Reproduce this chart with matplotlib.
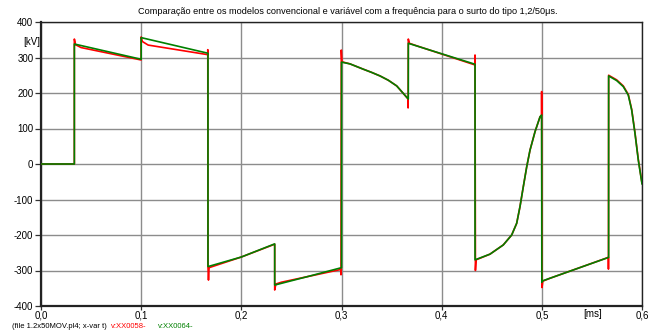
import matplotlib
matplotlib.use('Agg')
import matplotlib.pyplot as plt
from matplotlib.ticker import FuncFormatter

plt.rcParams['font.family'] = ['Liberation Sans', 'DejaVu Sans']
plt.rcParams['axes.unicode_minus'] = False

# v:XX0064- (green, variable-frequency model)
t_green = [0.0, 0.0333, 0.0333, 0.1, 0.1, 0.1667, 0.1667, 0.2, 0.2333, 0.2333,
           0.265, 0.3, 0.3, 0.3085, 0.3218, 0.3301, 0.3385, 0.3467, 0.3551, 0.3601,
           0.3667, 0.3667, 0.4333, 0.4333, 0.4482, 0.4615, 0.4699, 0.4749, 0.4782,
           0.4815, 0.4849, 0.4882, 0.4932, 0.4982, 0.4998, 0.5, 0.5, 0.5667,
           0.5667, 0.5747, 0.5813, 0.5863, 0.5897, 0.593, 0.5963, 0.6]
v_green = [0, 0, 338, 295, 356, 312, -289, -262, -225, -341,
           -318, -292, 287, 282, 267, 258, 248, 236, 220, 204,
           183, 340, 281, -270, -254, -228, -200, -167, -120,
           -64, -8, 39, 91, 133, 138, -333, -330, -263,
           248, 235, 218, 194, 152, 86, 11, -56]

# v:XX0058- (red, conventional model)
t_red = [0.0, 0.0333, 0.0333, 0.0345, 0.04, 0.1,
         0.1, 0.1012, 0.107, 0.1665, 0.1665, 0.1667, 0.1672, 0.1678, 0.2, 0.2333,
         0.2333, 0.2345, 0.24, 0.2995, 0.2995, 0.2998, 0.3004, 0.3085, 0.3218,
         0.3301, 0.3385, 0.3467, 0.3551, 0.3601, 0.3665, 0.3665, 0.3667, 0.3678,
         0.375, 0.4333, 0.4333, 0.4337, 0.4343, 0.4482, 0.4615, 0.4699, 0.4749,
         0.4782, 0.4815, 0.4849, 0.4882, 0.4932, 0.4982, 0.4998, 0.4998, 0.5002,
         0.501, 0.508, 0.5665, 0.5665, 0.5667, 0.5747, 0.5813, 0.5863, 0.5897,
         0.593, 0.5963, 0.6]
v_red = [0, 0, 352, 336, 328, 293,
         358, 345, 335, 308, 322, -290, -327, -292, -262, -226,
         -355, -338, -333, -297, -312, 321, 288, 282, 267,
         258, 248, 236, 220, 204, 183, 158, 352, 340,
         333, 279, 307, -300, -270, -254, -228, -200, -167,
         -120, -64, -8, 39, 91, 133, 138, 204, -348,
         -330, -322, -263, -296, 250, 237, 220, 196, 154,
         88, 13, -54]

y_ticks = [-400, -300, -200, -100, 0, 100, 200, 300, 400]
x_ticks = [0.0, 0.1, 0.2, 0.3, 0.4, 0.5, 0.6]

title = 'Comparação entre os modelos convencional e variável com a frequência para o surto do tipo 1,2/50μs.'

fig = plt.figure(figsize=(6.56, 3.32), dpi=100)
ax = fig.add_axes([41/656, 1 - 306/332, (642 - 41)/656, (306 - 22)/332])

ax.plot(t_red, v_red, color='#ff0000', lw=1.2, zorder=3)
ax.plot(t_green, v_green, color='#008000', lw=1.2, zorder=4)

ax.set_xlim(0, 0.6)
ax.set_ylim(-400, 400)
ax.set_xticks(x_ticks)
ax.set_yticks(y_ticks)
ax.xaxis.set_major_formatter(FuncFormatter(lambda v, p: f'{v:.1f}'.replace('.', ',')))
ax.grid(True, color='#8c8c8c', lw=1.0, zorder=1)
ax.tick_params(labelsize=7, length=4, width=0.9, color='#333333', pad=1.5)
ax.tick_params(axis='x', length=3, pad=0.5)
for s in ax.spines.values():
    s.set_color('#222222')
    s.set_linewidth(1.0)
ax.spines['left'].set_linewidth(1.6)
ax.spines['bottom'].set_linewidth(1.6)

fig.text(348/656, 1 - 12/332, title, ha='center', va='center', fontsize=6.6)
fig.text(23/656, 1 - 42/332, '[kV]', ha='left', va='center', fontsize=7)
fig.text(583/656, 1 - 314/332, '[ms]', ha='left', va='center', fontsize=7)
fig.text(12/656, 1 - 327/332, '(file 1.2x50MOV.pl4; x-var t)', ha='left', va='center', fontsize=5.5)
fig.text(111/656, 1 - 327/332, 'v:XX0058-', color='#ff0000', ha='left', va='center', fontsize=5.5)
fig.text(158/656, 1 - 327/332, 'v:XX0064-', color='#008000', ha='left', va='center', fontsize=5.5)

fig.savefig('out.png', dpi=100)
